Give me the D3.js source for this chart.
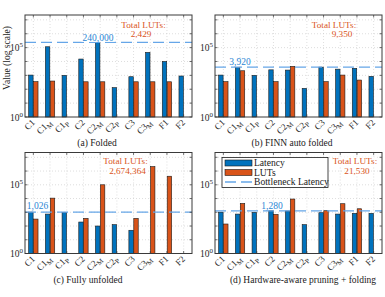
<!DOCTYPE html>
<html><head><meta charset="utf-8">
<script src="https://cdn.jsdelivr.net/npm/d3@7"></script>
<style>body{margin:0;background:#fff}svg{display:block}text{font-family:"Liberation Serif","DejaVu Serif",serif}</style>
</head><body>
<svg id="c" width="385" height="297"></svg>
<script>
const categories = ["C1","C1_M","C1_P","C2","C2_M","C2_P","C3","C3_M","F1","F2"];
const latFolded = [1050,115000,1000,15000,240000,130,800,45000,10000,900];
const lutFolded = [350,390,null,345,345,null,345,345,345,null];
const latFinn = [1050,3700,1000,2500,2400,115,3920,2800,3200,850];
const lutFinn = [350,2150,null,350,4450,null,350,1050,460,null];
const latUnfolded = [1026,740,980,195,100,125,49,null,null,null];
const lutUnfolded = [320,10700,null,360,100000,null,360,2100000,420000,null];
const latHw = [1020,740,980,1280,1230,125,930,740,830,830];
const lutHw = [140,4400,null,700,9200,null,1300,4200,1800,null];
const bottleneck = [240000,3920,1026,1280];
const bottleneckLabels = ["240,000","3,920","1,026","1,280"];
const totalLuts = ["2,429","9,350","2,674,364","21,530"];
const captions = ["(a) Folded","(b) FINN auto folded","(c) Fully unfolded","(d) Hardware-aware pruning + folding"];
const yTicks = [1,1e5];
const legendLabels = ["Latency","LUTs","Bottleneck Latency"];

const BLUE="#0072BD", ORANGE="#D95319", DASH="#66a6e8", BLUETXT="#2a86d4";
const svg = d3.select("#c");

const panels = [
  {x0:25,x1:192,y0:15,y1:117, lat:latFolded, lut:lutFolded, bl:[98,41], tl:[143.5,27.5,141,37], cap:[97,146]},
  {x0:215,x1:382,y0:15,y1:117, lat:latFinn, lut:lutFinn, bl:[240,65], tl:[334,27.5,342,37], cap:[292,146]},
  {x0:25,x1:192,y0:152.5,y1:253.5, lat:latUnfolded, lut:lutUnfolded, bl:[37.5,209], tl:[125.5,164,127.5,173.5], cap:[88,283]},
  {x0:215,x1:382,y0:152.5,y1:253.5, lat:latHw, lut:lutHw, bl:[272,209], tl:[355,164,357,173.5], cap:[303,283]}
];

function catLabel(sel, c){
  const parts = c.split("_");
  sel.append("tspan").text(parts[0]);
  if(parts[1]) sel.append("tspan").attr("font-size","7px").attr("dy","2.5").text(parts[1]);
}

panels.forEach((p,i)=>{
  const g = svg.append("g");
  const x = d3.scaleBand().domain(categories).range([p.x0,p.x1]);
  const bw = x.bandwidth();
  const xs = d3.scaleBand().domain(["lat","lut"]).range([bw*0.22,bw*0.78]).paddingInner(0.1);
  const y = d3.scaleLog().domain([1,Math.pow(10,7.35)]).range([p.y1,p.y0]);
  const decades = d3.range(1,8).map(k=>Math.pow(10,k));

  // grid
  g.selectAll(".hg").data(decades).enter().append("line")
    .attr("x1",p.x0).attr("x2",p.x1).attr("y1",d=>y(d)).attr("y2",d=>y(d))
    .attr("stroke","#c8c8c8").attr("stroke-width",0.6).attr("stroke-dasharray","1,2");
  g.selectAll(".vg").data(categories).enter().append("line")
    .attr("x1",d=>x(d)+bw/2).attr("x2",d=>x(d)+bw/2).attr("y1",p.y0).attr("y2",p.y1)
    .attr("stroke","#c8c8c8").attr("stroke-width",0.6).attr("stroke-dasharray","1,2");

  // bars
  const series = [{k:"lat",v:p.lat,c:BLUE},{k:"lut",v:p.lut,c:ORANGE}];
  series.forEach(s=>{
    g.selectAll(".b"+s.k).data(categories.map((c,j)=>({c,v:s.v[j]})).filter(d=>d.v!=null))
      .enter().append("rect")
      .attr("x",d=>x(d.c)+xs(s.k)).attr("width",xs.bandwidth())
      .attr("y",d=>y(d.v)).attr("height",d=>y(1)-y(d.v))
      .attr("fill",s.c).attr("stroke","#1a1a1a").attr("stroke-width",0.6);
  });

  // bottleneck line
  g.append("line").attr("x1",p.x0).attr("x2",p.x1)
    .attr("y1",y(bottleneck[i])).attr("y2",y(bottleneck[i]))
    .attr("stroke",DASH).attr("stroke-width",1.3).attr("stroke-dasharray","11,5");
  const bt = g.append("text").attr("x",p.bl[0]).attr("y",p.bl[1]).attr("text-anchor","middle")
    .attr("font-size","9.5px").attr("fill",BLUETXT).text(bottleneckLabels[i]);
  const bb = bt.node().getBBox();
  g.insert("rect",()=>bt.node()).attr("x",bb.x-1).attr("y",bb.y+1).attr("width",bb.width+2).attr("height",bb.height-2)
    .attr("fill","#fff").attr("opacity",0.75);

  // total luts
  const t1 = g.append("text").attr("x",p.tl[0]).attr("y",p.tl[1]).attr("text-anchor","middle")
    .attr("font-size","9.2px").attr("fill",ORANGE).text("Total LUTs:");
  const t2 = g.append("text").attr("x",p.tl[2]).attr("y",p.tl[3]).attr("text-anchor","middle")
    .attr("font-size","9.2px").attr("fill",ORANGE).text(totalLuts[i]);
  [t1,t2].forEach(t=>{const b=t.node().getBBox();
    g.insert("rect",()=>t.node()).attr("x",b.x).attr("y",b.y+1).attr("width",b.width).attr("height",b.height-1).attr("fill","#fff").attr("opacity",0.85);});

  // frame + ticks
  g.append("rect").attr("x",p.x0).attr("y",p.y0).attr("width",p.x1-p.x0).attr("height",p.y1-p.y0)
    .attr("fill","none").attr("stroke","#3a3a3a").attr("stroke-width",1);
  [1].concat(decades).forEach(d=>{
    g.append("line").attr("x1",p.x0).attr("x2",p.x0+2.5).attr("y1",y(d)).attr("y2",y(d)).attr("stroke","#3a3a3a").attr("stroke-width",0.7);
    g.append("line").attr("x1",p.x1).attr("x2",p.x1-2.5).attr("y1",y(d)).attr("y2",y(d)).attr("stroke","#3a3a3a").attr("stroke-width",0.7);
  });
  categories.forEach(c=>{
    const cx = x(c)+bw/2;
    g.append("line").attr("x1",cx).attr("x2",cx).attr("y1",p.y1).attr("y2",p.y1-2.5).attr("stroke","#3a3a3a").attr("stroke-width",0.7);
    g.append("line").attr("x1",cx).attr("x2",cx).attr("y1",p.y0).attr("y2",p.y0+2.5).attr("stroke","#3a3a3a").attr("stroke-width",0.7);
  });

  // y tick labels
  yTicks.forEach(v=>{
    const t = g.append("text").attr("x",p.x0-2).attr("y",y(v)+3.5).attr("text-anchor","end")
      .attr("font-size","9.5px").attr("fill","#262626");
    t.append("tspan").text("10");
    t.append("tspan").attr("font-size","7px").attr("dy","-4").text(String(Math.round(Math.log10(v))));
  });

  // x tick labels
  categories.forEach(c=>{
    const cx = x(c)+bw/2+2;
    const t = g.append("text").attr("transform",`translate(${cx},${p.y1+6}) rotate(-45)`)
      .attr("text-anchor","end").attr("font-size","9px").attr("fill","#262626");
    catLabel(t,c);
  });

  // caption
  g.append("text").attr("x",p.cap[0]).attr("y",p.cap[1]).attr("text-anchor","middle")
    .attr("font-size","9.5px").attr("fill","#1a1a1a").text(captions[i]);

  // legend in last panel
  if(i===3){
    const lg = g.append("g");
    lg.append("rect").attr("x",222).attr("y",157.5).attr("width",106).attr("height",30)
      .attr("fill","#fff").attr("stroke","#1a1a1a").attr("stroke-width",0.8);
    const rows=[163,172.5,182];
    [BLUE,ORANGE].forEach((col,k)=>{
      lg.append("rect").attr("x",225).attr("y",rows[k]-3).attr("width",27).attr("height",6)
        .attr("fill",col).attr("stroke","#1a1a1a").attr("stroke-width",0.6);
    });
    lg.append("line").attr("x1",225).attr("x2",252).attr("y1",rows[2]).attr("y2",rows[2])
      .attr("stroke",DASH).attr("stroke-width",1.3).attr("stroke-dasharray","11,5");
    legendLabels.forEach((l,k)=>{
      lg.append("text").attr("x",254).attr("y",rows[k]+3.2).attr("font-size","9.6px").attr("fill","#1a1a1a").text(l);
    });
  }
});

svg.append("text").attr("transform","translate(10,58) rotate(-90)").attr("text-anchor","middle")
  .attr("font-size","9.5px").attr("fill","#1a1a1a").text("Value (log scale)");
</script>
</body></html>
